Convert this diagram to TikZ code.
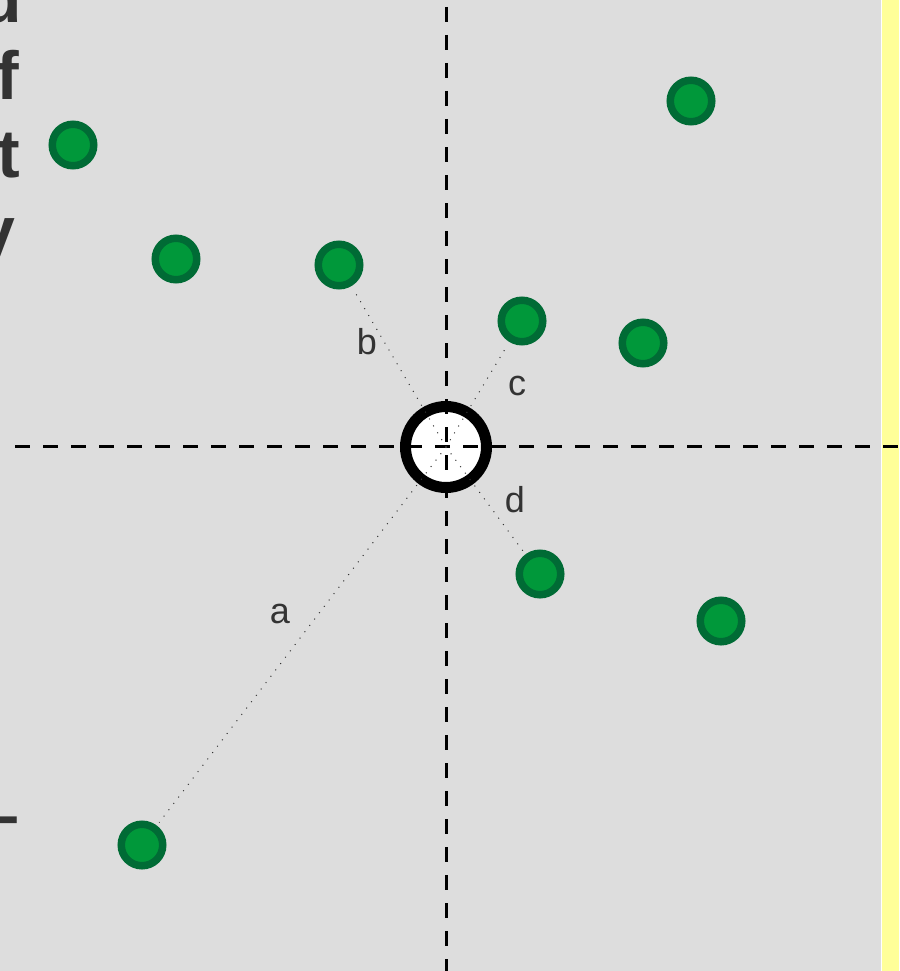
\documentclass[tikz,border=0pt]{standalone}
\usepackage{fontspec}
\setmainfont{Liberation Sans}
\usepackage{xcolor}
\definecolor{panelgray}{HTML}{DDDDDD}
\definecolor{sideyellow}{HTML}{FFFF99}
\definecolor{dotgreen}{HTML}{00983A}
\definecolor{ringgreen}{HTML}{006B35}
\definecolor{textgray}{HTML}{333333}

\begin{document}
\begin{tikzpicture}[
    x=1pt, y=-1pt,
    point/.style={
        circle, draw=ringgreen, fill=dotgreen,
        line width=7.5pt, minimum size=41.5pt, inner sep=0pt
    },
    target/.style={
        circle, draw=black, fill=white,
        line width=11pt, minimum size=81pt, inner sep=0pt
    },
    axis/.style={black, line width=3pt, dash pattern=on 15pt off 13pt},
    link/.style={black!80, line width=1pt, dash pattern=on 1pt off 7pt, shorten >=3.75pt},
    dist/.style={font=\fontsize{36}{40}\selectfont, text=textgray, anchor=base, inner sep=0pt},
    cutoff/.style={font=\fontsize{68}{80}\selectfont\bfseries, text=textgray, anchor=base east, inner sep=0pt}
]
    \clip (0,0) rectangle (899,971);

    %% Panel
    \fill[panelgray] (0,0) rectangle (881,971);
    \fill[sideyellow] (881,0) rectangle (899,971);
    \draw[white, line width=1pt] (881.5,0) -- (881.5,971);

    %% Cut-off text at the left edge
    \node[cutoff] (w1) at (22,23) {d};
    \node[cutoff] (w2) at (19,100) {f};
    \node[cutoff] (w3) at (20,177) {t};
    \node[cutoff] (w4) at (16,254) {y};
    \node[cutoff] (w5) at (20,838) {–};

    %% Query point
    \node[target] (origin) at (446,447) {};

    %% Axes
    \coordinate (xl) at (15,446);
    \coordinate (xr) at (899,446);
    \coordinate (yt) at (446,7);
    \coordinate (yb) at (446,971);
    \draw[axis] (xl) -- (xr);
    \draw[axis] (yt) -- (yb);

    %% Neighbours
    \node[point] (p1) at (73,145) {};
    \node[point] (p2) at (691,101) {};
    \node[point] (p3) at (176,259) {};
    \node[point] (pb) at (339,265) {};
    \node[point] (pc) at (522,321) {};
    \node[point] (p6) at (643,343) {};
    \node[point] (pd) at (540,574) {};
    \node[point] (p8) at (721,621) {};
    \node[point] (pa) at (142,845) {};

    %% Distances
    \draw[link] (origin.center) -- (pa);
    \draw[link] (origin.center) -- (pb);
    \draw[link] (origin.center) -- (pc);
    \draw[link] (origin.center) -- (pd);

    \node[dist] (la) at (280,623) {a};
    \node[dist] (lb) at (367,354) {b};
    \node[dist] (lc) at (517,395) {c};
    \node[dist] (ld) at (515,512) {d};
\end{tikzpicture}
\end{document}
